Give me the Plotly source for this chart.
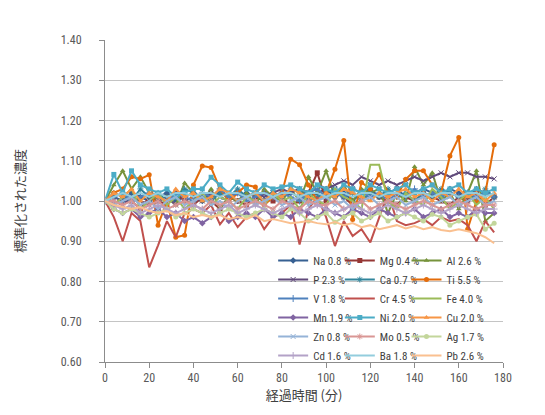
import plotly.graph_objects as go

# Time (minutes)
time_min = [0, 4, 8, 12, 16, 20, 24, 28, 32, 36, 40, 44, 48, 52, 56,
            60, 64, 68, 72, 76, 80, 84, 88, 92, 96, 100, 104, 108, 112, 116,
            120, 124, 128, 132, 136, 140, 144, 148, 152, 156, 160, 164, 168, 172, 176]

series_names = ["Na 0.8 %", "Mg 0.4 %", "Al 2.6 %", "P 2.3 %", "Ca 0.7 %", "Ti 5.5 %",
                "V 1.8 %", "Cr 4.5 %", "Fe 4.0 %", "Mn 1.9 %", "Ni 2.0 %", "Cu 2.0 %",
                "Zn 0.8 %", "Mo 0.5 %", "Ag 1.7 %", "Cd 1.6 %", "Ba 1.8 %", "Pb 2.6 %"]

na = [1.00, 1.01, 1.00, 1.02, 1.01, 1.00, 1.01, 1.02, 1.00, 1.01, 1.02, 1.00, 1.01, 1.02, 1.01,
      1.00, 1.02, 1.01, 1.00, 1.02, 1.01, 1.02, 1.03, 1.01, 1.02, 1.03, 1.01, 1.02, 1.00, 1.02,
      1.03, 1.01, 1.02, 1.03, 1.01, 1.02, 1.03, 1.02, 1.01, 1.03, 1.02, 1.01, 1.03, 1.02, 1.01]
mg = [1.00, 0.99, 1.01, 1.00, 0.98, 1.01, 1.00, 0.99, 1.02, 1.00, 0.99, 1.01, 1.00, 0.98, 1.01,
      1.00, 0.99, 1.01, 1.02, 1.00, 1.01, 0.99, 1.00, 1.02, 1.07, 1.00, 1.02, 1.01, 0.99, 1.00,
      1.02, 1.01, 1.00, 0.99, 1.01, 1.00, 1.02, 1.01, 1.00, 0.99, 1.01, 1.00, 1.02, 0.99, 1.01]
al = [1.00, 1.04, 1.075, 1.03, 1.06, 1.02, 1.00, 1.01, 0.99, 1.045, 1.02, 1.00, 1.03, 0.98, 1.01,
      1.00, 1.02, 0.99, 1.03, 1.01, 1.00, 1.03, 1.00, 1.06, 1.02, 1.075, 1.01, 1.04, 1.00, 1.03,
      1.02, 1.03, 0.97, 1.02, 1.00, 1.085, 1.04, 1.07, 1.00, 1.02, 0.98, 1.02, 1.075, 0.95, 0.97]
p = [1.00, 1.00, 0.99, 1.01, 1.00, 0.99, 1.00, 1.01, 0.99, 1.00, 1.01, 1.00, 1.02, 1.01, 1.00,
     1.02, 1.01, 1.02, 1.01, 1.02, 1.03, 1.02, 1.03, 1.02, 1.04, 1.03, 1.04, 1.05, 1.04, 1.06,
     1.05, 1.04, 1.05, 1.04, 1.05, 1.06, 1.05, 1.06, 1.07, 1.06, 1.07, 1.07, 1.06, 1.06, 1.055]
ca = [1.00, 1.02, 1.01, 1.00, 1.03, 1.01, 1.02, 1.00, 1.01, 1.03, 1.02, 1.01, 1.00, 1.02, 1.01,
      1.03, 1.01, 1.02, 1.00, 1.02, 1.01, 1.03, 1.02, 1.00, 1.01, 1.02, 1.03, 1.01, 1.02, 1.00,
      1.02, 1.01, 1.03, 1.01, 1.02, 1.00, 1.02, 1.01, 1.03, 1.02, 1.01, 1.02, 1.00, 1.03, 1.01]
ti = [1.00, 1.02, 1.03, 1.06, 1.055, 1.065, 0.94, 1.00, 0.91, 0.915, 1.04, 1.087, 1.083, 1.03, 1.00,
      1.02, 1.04, 1.035, 0.99, 1.01, 1.02, 1.104, 1.09, 1.04, 1.00, 1.02, 1.079, 1.15, 0.954, 1.046,
      1.03, 1.066, 1.02, 1.01, 1.054, 1.075, 1.075, 1.04, 1.02, 1.112, 1.158, 0.93, 1.00, 1.02, 1.14]
v = [1.00, 1.01, 1.02, 1.00, 1.01, 1.02, 1.01, 1.00, 1.02, 1.01, 1.00, 1.02, 1.01, 1.03, 1.01,
     1.02, 1.00, 1.01, 1.02, 1.01, 1.02, 1.01, 1.00, 1.02, 1.03, 1.01, 1.02, 1.01, 1.03, 1.02,
     1.01, 1.02, 1.00, 1.02, 1.01, 1.03, 1.01, 1.02, 1.01, 1.02, 1.01, 1.02, 1.01, 1.02, 1.01]
cr = [1.00, 0.96, 0.90, 0.97, 0.95, 0.835, 0.89, 0.95, 0.91, 0.97, 0.98, 0.97, 0.99, 0.942, 0.97,
      0.935, 0.96, 0.97, 0.93, 0.96, 0.97, 0.99, 0.892, 0.98, 1.01, 0.96, 0.888, 0.95, 0.913, 0.93,
      0.897, 0.96, 1.02, 0.95, 0.94, 0.945, 0.955, 0.94, 0.96, 0.95, 0.955, 0.94, 0.90, 0.95, 0.922]
fe = [1.00, 0.99, 1.01, 1.03, 0.98, 1.00, 1.02, 0.99, 1.01, 0.98, 1.00, 1.02, 0.99, 1.01, 1.00,
      0.98, 1.01, 1.00, 0.99, 1.02, 1.00, 1.01, 0.98, 1.02, 1.00, 0.99, 1.03, 1.01, 1.00, 0.98,
      1.09, 1.09, 1.00, 0.98, 1.02, 1.00, 0.99, 1.03, 1.01, 0.98, 1.00, 1.02, 0.99, 1.01, 0.98]
mn = [1.00, 0.98, 0.97, 0.98, 0.96, 0.97, 0.98, 0.96, 0.97, 0.95, 0.96, 0.945, 0.96, 0.97, 0.95,
      0.96, 0.97, 0.96, 0.98, 0.96, 0.97, 0.96, 0.98, 0.97, 0.96, 0.98, 0.97, 0.96, 0.98, 0.97,
      0.96, 0.98, 0.97, 0.96, 0.97, 0.98, 0.96, 0.97, 0.98, 0.96, 0.97, 0.96, 0.98, 0.97, 0.97]
ni = [1.00, 1.066, 1.02, 1.075, 1.04, 1.03, 1.02, 1.03, 1.01, 1.02, 1.03, 1.03, 1.059, 1.04, 1.02,
      1.047, 1.03, 1.02, 1.04, 1.03, 1.035, 1.04, 1.03, 1.02, 1.04, 1.03, 1.02, 1.04, 1.03, 1.02,
      1.04, 1.03, 1.02, 1.03, 1.04, 1.02, 1.03, 1.04, 1.02, 1.03, 1.04, 1.02, 1.03, 1.02, 1.03]
cu = [1.00, 1.02, 1.01, 1.03, 1.00, 1.02, 1.01, 1.00, 1.03, 1.01, 1.02, 1.00, 1.01, 1.03, 1.02,
      1.00, 1.01, 1.02, 1.00, 1.02, 1.01, 1.03, 1.02, 1.01, 1.00, 1.02, 1.01, 1.03, 1.02, 1.01,
      1.00, 1.02, 1.01, 1.02, 1.03, 1.01, 1.02, 1.00, 1.02, 1.01, 1.03, 1.01, 1.02, 1.00, 1.02]
zn = [1.00, 0.99, 1.00, 1.01, 0.99, 1.00, 0.98, 1.00, 1.01, 0.99, 1.00, 1.01, 0.99, 1.00, 0.98,
      1.00, 1.01, 0.99, 1.00, 1.01, 0.99, 1.00, 1.01, 0.99, 1.00, 1.01, 0.99, 1.00, 0.98, 1.00,
      1.01, 0.99, 1.00, 1.01, 0.99, 1.00, 1.01, 0.99, 1.00, 1.01, 0.99, 1.00, 1.01, 0.99, 1.00]
mo = [1.00, 1.00, 0.99, 1.00, 0.98, 0.99, 1.00, 0.98, 0.99, 1.00, 0.99, 0.98, 1.00, 0.99, 1.00,
      0.98, 0.99, 1.00, 0.99, 0.98, 1.00, 0.99, 0.98, 1.00, 0.99, 0.99, 1.00, 0.98, 0.99, 1.00,
      0.98, 0.99, 1.00, 0.99, 0.98, 0.99, 1.00, 0.99, 0.98, 0.99, 1.00, 0.99, 0.98, 0.99, 0.99]
ag = [1.00, 0.98, 0.97, 0.98, 0.97, 0.96, 0.97, 0.98, 0.96, 0.97, 0.98, 0.97, 0.96, 0.97, 0.98,
      0.97, 0.96, 0.97, 0.98, 0.97, 0.96, 0.98, 0.97, 0.95, 0.96, 0.97, 0.947, 0.96, 0.97, 0.95,
      0.96, 0.97, 0.95, 0.96, 0.97, 0.96, 0.95, 0.967, 0.96, 0.94, 0.95, 0.96, 0.967, 0.93, 0.945]
cd = [1.00, 0.99, 0.98, 0.99, 0.97, 0.98, 0.99, 0.98, 0.97, 0.98, 0.99, 0.98, 0.97, 0.98, 0.99,
      0.97, 0.98, 0.99, 0.98, 0.97, 0.98, 0.99, 0.97, 0.98, 0.99, 0.98, 0.97, 0.98, 0.99, 0.98,
      0.97, 0.98, 0.99, 0.98, 0.97, 0.98, 0.99, 0.98, 0.97, 0.98, 0.99, 0.98, 0.97, 0.98, 0.98]
ba = [1.00, 1.01, 1.02, 1.01, 1.02, 1.01, 1.02, 1.01, 1.02, 1.02, 1.01, 1.02, 1.02, 1.01, 1.02,
      1.02, 1.01, 1.02, 1.02, 1.01, 1.02, 1.02, 1.01, 1.02, 1.02, 1.01, 1.02, 1.02, 1.01, 1.02,
      1.02, 1.01, 1.02, 1.02, 1.01, 1.02, 1.02, 1.01, 1.02, 1.02, 1.01, 1.02, 1.02, 1.01, 1.02]
pb = [1.00, 0.99, 0.985, 0.98, 0.985, 0.975, 0.97, 0.975, 0.965, 0.97, 0.96, 0.965, 0.96, 0.965, 0.955,
      0.96, 0.955, 0.965, 0.95, 0.955, 0.95, 0.945, 0.947, 0.95, 0.945, 0.942, 0.948, 0.94, 0.945, 0.935,
      0.94, 0.93, 0.935, 0.94, 0.932, 0.938, 0.93, 0.935, 0.928, 0.925, 0.93, 0.925, 0.92, 0.91, 0.895]

series_values = [na, mg, al, p, ca, ti, v, cr, fe, mn, ni, cu, zn, mo, ag, cd, ba, pb]

colors = ["#376092", "#953735", "#77933C", "#604A7B", "#31859C", "#E46C0A",
          "#4F81BD", "#C0504D", "#9BBB59", "#8064A2", "#4BACC6", "#F79646",
          "#95B3D7", "#D99694", "#C3D69B", "#B3A2C7", "#93CDDD", "#FAC090"]
symbols = ["diamond", "square", "triangle-up", "x-thin", "asterisk", "circle",
           "cross-thin", None, None, "diamond", "square", "triangle-up",
           "x-thin", "asterisk", "circle", "cross-thin", None, None]

y_ticks = [0.60, 0.70, 0.80, 0.90, 1.00, 1.10, 1.20, 1.30, 1.40]
x_ticks = [0, 20, 40, 60, 80, 100, 120, 140, 160, 180]

NARROW = "Liberation Sans Narrow, Arial Narrow, Roboto Condensed, Arial, sans-serif"
JP = "Noto Sans CJK JP, sans-serif"

fig = go.Figure()
legend_ids = ["legend", "legend2", "legend3"]
for i, (name, vals) in enumerate(zip(series_names, series_values)):
    sym = symbols[i]
    kw = dict(x=time_min, y=vals, name=name, legend=legend_ids[i % 3],
              line=dict(color=colors[i], width=2))
    if sym is None:
        kw["mode"] = "lines"
    else:
        kw["mode"] = "lines+markers"
        thin = sym in ("x-thin", "asterisk", "cross-thin")
        kw["marker"] = dict(symbol=sym, size=5, color=colors[i],
                            line=dict(color=colors[i], width=1 if thin else 0))
    fig.add_trace(go.Scatter(**kw))

# page body has an 8px margin; plot area on screen: x 103-503, y 40-362
leg_common = dict(bgcolor="rgba(0,0,0,0)", font=dict(family=NARROW, size=11, color="#404040"),
                  yanchor="top", xanchor="left", orientation="v", tracegroupgap=0)
leg_y = (354 - 238) / 322
fig.update_layout(
    width=545, height=415,
    margin=dict(l=95, r=50, t=32, b=61),
    paper_bgcolor="white", plot_bgcolor="white",
    showlegend=True,
    legend=dict(x=(264 - 95) / 400, y=leg_y, **leg_common),
    legend2=dict(x=(331 - 95) / 400, y=leg_y, **leg_common),
    legend3=dict(x=(398 - 95) / 400, y=leg_y, **leg_common),
    xaxis=dict(range=[0, 180], tickvals=x_ticks, ticktext=[str(t) for t in x_ticks],
               showgrid=False, zeroline=False, showline=True, linecolor="#8C8C8C", linewidth=1,
               ticks="outside", ticklen=5, tickcolor="#8C8C8C",
               tickfont=dict(family=NARROW, size=12, color="#595959"),
               title=dict(text="経過時間 (分)", font=dict(family=JP, size=13, color="#404040"), standoff=4)),
    yaxis=dict(range=[0.60, 1.40], tickvals=y_ticks, ticktext=[f"{t:.2f}" for t in y_ticks],
               showgrid=True, gridcolor="#C4C4C4", gridwidth=1, zeroline=False,
               showline=True, linecolor="#8C8C8C", linewidth=1, automargin=True,
               ticks="outside", ticklen=5, tickcolor="#8C8C8C", ticklabelstandoff=15,
               tickfont=dict(family=NARROW, size=12, color="#595959"),
               title=dict(text="標準化された濃度", font=dict(family=JP, size=13, color="#404040"), standoff=32)),
)

fig.write_html("out.html")
